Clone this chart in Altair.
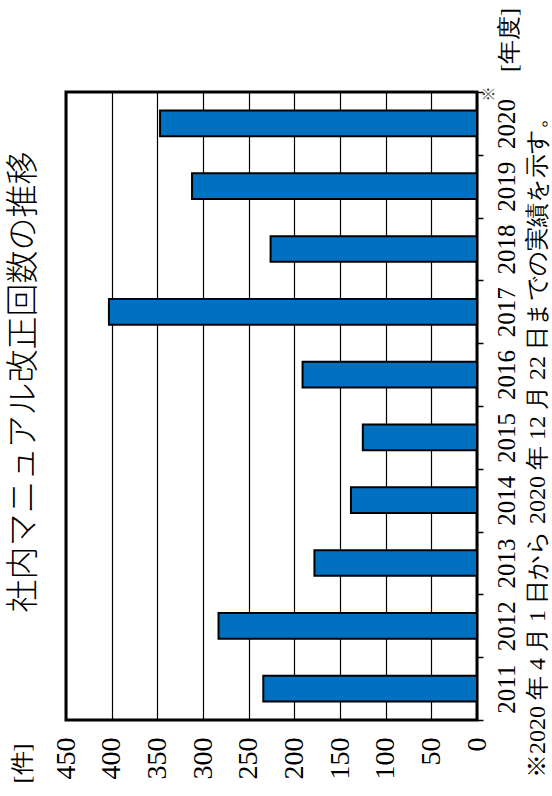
import altair as alt
import pandas as pd

# ---- data ----
years = ["2011", "2012", "2013", "2014", "2015", "2016", "2017", "2018", "2019", "2020"]
counts = [234, 283, 178, 138, 125, 191, 403, 226, 312, 347]
value_ticks = [0, 50, 100, 150, 200, 250, 300, 350, 400, 450]

title_text = "社内マニュアル改正回数の推移"
footnote_text = "※2020 年 4 月 1 日から 2020 年 12 月 22 日までの実績を示す。"
unit_count = "[件]"
unit_year = "[年度]"
note_mark = "※"

SERIF = "Liberation Serif"
CJK = "Noto Sans CJK JP"

df = pd.DataFrame({"year": years, "count": counts})

bars = alt.Chart(df).mark_bar(
    color="#0070C0", stroke="black", strokeWidth=2,
    height=alt.RelativeBandSize(band=0.41),
).encode(
    x=alt.X(
        "count:Q",
        scale=alt.Scale(domain=[0, 450], reverse=True, nice=False, zero=True),
        axis=alt.Axis(
            orient="bottom", values=value_ticks, grid=True, gridColor="black",
            gridWidth=1.2, gridOpacity=1, ticks=False, tickSize=0, domain=False,
            labelAngle=270, labelFont=SERIF, labelFontSize=28, labelColor="black",
            labelPadding=17, labelFlush=False, labelOverlap=False,
            title=unit_count, titleX=-44, titleY=43, titleAngle=270,
            titleAlign="center", titleBaseline="middle", titleFont=SERIF,
            titleFontSize=24, titleFontWeight="normal", titleColor="black",
        ),
    ),
    y=alt.Y(
        "year:O", sort="descending",
        scale=alt.Scale(paddingInner=0, paddingOuter=0),
        axis=alt.Axis(
            orient="right", tickBand="extent", ticks=True, tickSize=6,
            tickColor="black", tickWidth=1.5, domain=False, grid=False,
            labelAngle=270, labelAlign="center", labelBaseline="top",
            labelFont=SERIF, labelFontSize=25, labelColor="black", labelPadding=11,
            title=footnote_text, titleX=60, titleY=349, titleAngle=270,
            titleAlign="center", titleBaseline="middle", titleFont=SERIF,
            titleFontSize=24, titleFontWeight="normal", titleColor="black",
        ),
    ),
)

year_unit = alt.Chart(pd.DataFrame({"t": [unit_year]})).mark_text(
    angle=270, align="center", baseline="middle", font=SERIF, fontSize=24, color="black"
).encode(text="t:N", x=alt.value(444), y=alt.value(-52))

note = alt.Chart(pd.DataFrame({"t": [note_mark]})).mark_text(
    angle=270, align="center", baseline="middle", font=CJK, fontSize=15, color="#333333"
).encode(text="t:N", x=alt.value(423), y=alt.value(2))

title = alt.Chart(pd.DataFrame({"t": [title_text]})).mark_text(
    angle=270, align="center", baseline="middle", font=CJK, fontSize=33,
    fontWeight=300, color="black"
).encode(text="t:N", x=alt.value(-42), y=alt.value(290))

chart = alt.layer(bars, year_unit, note, title).properties(
    width=411,
    height=628,
    autosize=alt.AutoSizeParams(type="none"),
    padding={"left": 66, "top": 92, "right": 75, "bottom": 76},
    background="white",
).configure_view(stroke="black", strokeWidth=3)

chart.save("out.html", embed_options={"renderer": "svg", "actions": False})
